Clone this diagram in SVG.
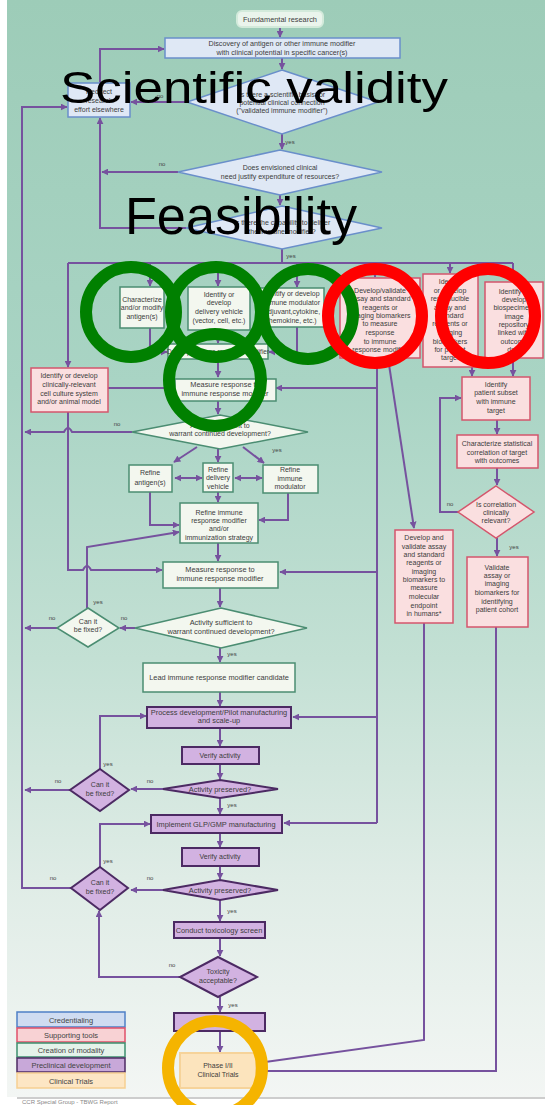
<svg xmlns="http://www.w3.org/2000/svg" width="545" height="1105" viewBox="0 0 545 1105">
<defs>
<linearGradient id="bg" x1="0" y1="0" x2="0" y2="1">
<stop offset="0" stop-color="#9dccb8"/>
<stop offset="0.35" stop-color="#a9d4c4"/>
<stop offset="0.6" stop-color="#c3e0d4"/>
<stop offset="0.8" stop-color="#dfece6"/>
<stop offset="1" stop-color="#f3f6f4"/>
</linearGradient>
<marker id="ah" viewBox="0 0 10 10" refX="9" refY="5" markerWidth="3.5" markerHeight="3.5" orient="auto-start-reverse">
<path d="M0,0 L10,5 L0,10 z" fill="#76529e"/>
</marker>
</defs>
<style>
.t{font-family:"Liberation Sans",Arial,sans-serif;font-size:7px;fill:#3c3c3c;text-anchor:middle}
.s{font-size:7.2px}
.m{font-size:7.4px}
.lg{font-size:7.5px;fill:#444}
.no{font-family:"Liberation Sans",Arial,sans-serif;font-size:6px;fill:#444;text-anchor:middle}
.ln{stroke:#76529e;stroke-width:2;fill:none}
.ar{marker-end:url(#ah)}
.ab{marker-start:url(#ah);marker-end:url(#ah)}
.blu{fill:#dfe8f5;stroke:#6a8fca;stroke-width:1.5}
.grn{fill:#f3f7ef;stroke:#4b8d72;stroke-width:1.5}
.pnk{fill:#fadfe0;stroke:#d4566c;stroke-width:1.5}
.pur{fill:#d2b2e1;stroke:#4c2a63;stroke-width:2}
.org{fill:#fce4bd;stroke:#f6d39a;stroke-width:2}
.big{font-family:"Liberation Sans",Arial,sans-serif;fill:#000}
.gc{fill:none;stroke:#008000;stroke-width:12}
.rc{fill:none;stroke:#ff0000;stroke-width:12}
.oc{fill:none;stroke:#f5b400;stroke-width:12}
</style>
<rect x="0" y="0" width="545" height="1105" fill="#ffffff"/>
<rect x="7" y="0" width="538" height="1097" fill="url(#bg)"/>
<line x1="17" y1="1098" x2="545" y2="1098" stroke="#bdbdbd" stroke-width="1.5"/>
<text x="22" y="1104" style="font-family:'Liberation Sans',Arial,sans-serif;font-size:6px;fill:#888">CCR Special Group - TBWG Report</text>

<g id="connectors">
<path class="ln ar" d="M280 27 V37"/>
<path class="ln ar" d="M282 58 V69"/>
<path class="ln ar" d="M187 102 H131"/>
<path class="ln ar" d="M100 83 V49 H164"/>
<path class="ln ar" d="M282 134 V149"/>
<path class="ln ar" d="M178 172 H102"/>
<path class="ln ar" d="M186 228 H100 V118"/>
<path class="ln ar" d="M280 195 V205"/>
<path class="ln" d="M282 249 V263"/>
<path class="ln" d="M68 263 H513"/>
<path class="ln ar" d="M68 263 V367"/>
<path class="ln ar" d="M150 263 V286"/>
<path class="ln ar" d="M218 263 V286"/>
<path class="ln ar" d="M297 263 V287"/>
<path class="ln ar" d="M375 263 V277"/>
<path class="ln ar" d="M450 263 V273"/>
<path class="ln ar" d="M513 263 V281"/>
<path class="ln ar" d="M72 888 H22 V107 H67"/>
<path class="ln ar" d="M108 388 H174"/>
<path class="ln" d="M377 358 V823"/>
<path class="ln ar" d="M377 388 H276"/>
<path class="ln ar" d="M377 572 H280"/>
<path class="ln ar" d="M377 717 H293"/>
<path class="ln ar" d="M377 823 H284"/>
<path class="ln ar" d="M388 358 L414 528"/>
<path class="ln ar" d="M150 328 V352 H167"/>
<path class="ln ar" d="M218 330 V343"/>
<path class="ln ar" d="M297 327 V352 H269"/>
<path class="ln ar" d="M218 359 V377"/>
<path class="ln ar" d="M218 401 V414"/>
<path class="ln ar" d="M132 432 H72 Q68 424 64 432 H25"/>
<path class="ln ar" d="M197 447 L174 462"/>
<path class="ln ar" d="M218 449 V462"/>
<path class="ln ar" d="M243 447 L264 463"/>
<path class="ln ab" d="M175 478 H202"/>
<path class="ln ab" d="M235 478 H262"/>
<path class="ln ar" d="M150 492 V525 H179"/>
<path class="ln ar" d="M288 493 V520 H259"/>
<path class="ln ar" d="M218 492 V502"/>
<path class="ln ar" d="M218 543 V561"/>
<path class="ln ar" d="M68 412 V570 H83 Q87 562 91 570 H162"/>
<path class="ln ar" d="M87 608 V547 L179 532"/>
<path class="ln ar" d="M220 588 V607"/>
<path class="ln ar" d="M135 628 H120"/>
<path class="ln ar" d="M57 628 H25"/>
<path class="ln ar" d="M220 648 V662"/>
<path class="ln ar" d="M220 692 V706"/>
<path class="ln ar" d="M220 728 V746"/>
<path class="ln ar" d="M220 764 V779"/>
<path class="ln ar" d="M163 789 H131"/>
<path class="ln ar" d="M70 790 H25"/>
<path class="ln ar" d="M100 769 V716 H146"/>
<path class="ln ar" d="M220 798 V814"/>
<path class="ln ar" d="M220 833 V847"/>
<path class="ln ar" d="M220 866 V879"/>
<path class="ln ar" d="M163 890 H131"/>
<path class="ln ar" d="M100 867 V824 H150"/>
<path class="ln ar" d="M220 900 V921"/>
<path class="ln ar" d="M220 938 V956"/>
<path class="ln ar" d="M180 977 H99 V911"/>
<path class="ln ar" d="M220 997 V1012"/>
<path class="ln ar" d="M220 1031 V1052"/>
<path class="ln ar" d="M472 367 V376"/>
<path class="ln ar" d="M513 358 V376"/>
<path class="ln ar" d="M497 420 V434"/>
<path class="ln ar" d="M497 468 V485"/>
<path class="ln ar" d="M458 512 H440 V398 H461"/>
<path class="ln ar" d="M497 538 V556"/>
<path class="ln ar" d="M424 623 V1040 L258 1063"/>
<path class="ln ar" d="M496 627 V1071 H258"/>
</g>

<g id="labels">
<text class="no" x="160" y="98">no</text>
<text class="no" x="290" y="144">yes</text>
<text class="no" x="162" y="166">no</text>
<text class="no" x="291" y="191">yes</text>
<text class="no" x="291" y="258">yes</text>
<text class="no" x="117" y="426">no</text>
<text class="no" x="277" y="452">yes</text>
<text class="no" x="450" y="506">no</text>
<text class="no" x="514" y="549">yes</text>
<text class="no" x="98" y="604">yes</text>
<text class="no" x="52" y="620">no</text>
<text class="no" x="124" y="620">no</text>
<text class="no" x="232" y="656">yes</text>
<text class="no" x="108" y="766">yes</text>
<text class="no" x="58" y="783">no</text>
<text class="no" x="150" y="783">no</text>
<text class="no" x="232" y="807">yes</text>
<text class="no" x="108" y="863">yes</text>
<text class="no" x="53" y="880">no</text>
<text class="no" x="150" y="880">no</text>
<text class="no" x="232" y="913">yes</text>
<text class="no" x="172" y="967">no</text>
<text class="no" x="233" y="1007">yes</text>
</g>

<g id="n-fundamental"><rect x="237" y="11" width="86" height="16" rx="5" fill="#eaf4ec" stroke="#d3eadb" stroke-width="2"/><text class="t m" x="280" y="21.5">Fundamental research</text></g>
<g id="n-discovery"><rect class="blu" x="165" y="38" width="235" height="20"/><text class="t s" x="282" y="46">Discovery of antigen or other immune modifier</text><text class="t s" x="282" y="55">with clinical potential in specific cancer(s)</text></g>
<g id="n-scientific"><polygon class="blu" points="282,70 378,102 282,134 187,102"/><text class="t" x="282" y="97">Is there a scientific basis for</text><text class="t" x="282" y="105">potential clinical connection</text><text class="t" x="282" y="113">("validated immune modifier")</text></g>
<g id="n-redirect"><rect class="blu" x="68" y="83" width="62" height="34"/><text class="t" x="99" y="94">Redirect</text><text class="t" x="99" y="103">research</text><text class="t" x="99" y="112">effort elsewhere</text></g>
<g id="n-need"><polygon class="blu" points="280,150 382,172 280,195 178,172"/><text class="t" x="280" y="170">Does envisioned clinical</text><text class="t" x="280" y="179">need justify expenditure of resources?</text></g>
<g id="n-feasible"><polygon class="blu" points="282,206 382,228 282,249 186,228"/><text class="t" x="282" y="225">Is there the capability to deliver</text><text class="t" x="282" y="234">the immune modifier?</text></g>

<g id="n-antigen"><rect class="grn" x="120" y="287" width="44" height="41"/><text class="t" x="142" y="302">Characterize</text><text class="t" x="142" y="310">and/or modify</text><text class="t" x="142" y="319">antigen(s)</text></g>
<g id="n-vehicle"><rect class="grn" x="188" y="287" width="62" height="43"/><text class="t" x="219" y="297">Identify or</text><text class="t" x="219" y="305">develop</text><text class="t" x="219" y="314">delivery vehicle</text><text class="t" x="219" y="323">(vector, cell, etc.)</text></g>
<g id="n-modulator"><rect class="grn" x="259" y="288" width="65" height="39"/><text class="t" x="291" y="296">Identify or develop</text><text class="t" x="291" y="305">immune modulator</text><text class="t" x="291" y="314">(adjuvant,cytokine,</text><text class="t" x="291" y="323">chemokine, etc.)</text></g>
<g id="n-assay1"><rect class="pnk" x="340" y="278" width="80" height="80"/><text class="t" x="380" y="293">Develop/validate</text><text class="t" x="380" y="301">assay and standard</text><text class="t" x="380" y="310">reagents or</text><text class="t" x="380" y="318">imaging biomarkers</text><text class="t" x="380" y="326">to measure</text><text class="t" x="380" y="335">response</text><text class="t" x="380" y="344">to immune</text><text class="t" x="380" y="352">response modifier</text></g>
<g id="n-reproducible"><rect class="pnk" x="423" y="274" width="55" height="93"/><text class="t" x="450" y="284">Identify</text><text class="t" x="450" y="293">or develop</text><text class="t" x="450" y="301">reproducible</text><text class="t" x="450" y="310">assay and</text><text class="t" x="450" y="318">standard</text><text class="t" x="450" y="326">reagents or</text><text class="t" x="450" y="335">imaging</text><text class="t" x="450" y="344">biomarkers</text><text class="t" x="450" y="352">for patient</text><text class="t" x="450" y="360">target</text></g>
<g id="n-biospecimen"><rect class="pnk" x="485" y="282" width="58" height="76"/><text class="t" x="514" y="294">Identify or</text><text class="t" x="514" y="302">develop</text><text class="t" x="514" y="310">biospecimen/</text><text class="t" x="514" y="319">image</text><text class="t" x="514" y="327">repository</text><text class="t" x="514" y="335">linked with</text><text class="t" x="514" y="344">outcome</text><text class="t" x="514" y="352">data</text></g>
<g id="n-develop-irm"><rect class="grn" x="168" y="344" width="100" height="15"/><text class="t" x="218" y="353.5" style="font-size:6.5px">Develop immune response modifier</text></g>
<g id="n-cellculture"><rect class="pnk" x="31" y="368" width="77" height="44"/><text class="t" x="69" y="378">Identify or develop</text><text class="t" x="69" y="387">clinically-relevant</text><text class="t" x="69" y="396">cell culture system</text><text class="t" x="69" y="404">and/or animal model</text></g>
<g id="n-measure1"><rect class="grn" x="175" y="379" width="101" height="22"/><text class="t m" x="225" y="387">Measure response to</text><text class="t m" x="225" y="396">immune response modifier</text></g>
<g id="n-activity1"><polygon class="grn" points="220,415 308,432 220,449 132,432"/><text class="t" x="220" y="428">Activity sufficient to</text><text class="t" x="220" y="436">warrant continued development?</text></g>
<g id="n-ref-antigen"><rect class="grn" x="129" y="465" width="43" height="27"/><text class="t" x="150" y="475">Refine</text><text class="t" x="150" y="485">antigen(s)</text></g>
<g id="n-ref-vehicle"><rect class="grn" x="203" y="463" width="30" height="29"/><text class="t" x="218" y="472">Refine</text><text class="t" x="218" y="480">delivery</text><text class="t" x="218" y="489">vehicle</text></g>
<g id="n-ref-modulator"><rect class="grn" x="263" y="465" width="55" height="28"/><text class="t" x="290" y="472">Refine</text><text class="t" x="290" y="481">immune</text><text class="t" x="290" y="489">modulator</text></g>
<g id="n-ref-irm"><rect class="grn" x="180" y="503" width="78" height="40"/><text class="t" x="219" y="515">Refine immune</text><text class="t" x="219" y="523">response modifier</text><text class="t" x="219" y="531">and/or</text><text class="t" x="219" y="540">immunization strategy</text></g>
<g id="n-patient"><rect class="pnk" x="462" y="377" width="68" height="43"/><text class="t" x="496" y="387">Identify</text><text class="t" x="496" y="395">patient subset</text><text class="t" x="496" y="404">with immune</text><text class="t" x="496" y="413">target</text></g>
<g id="n-correlation"><rect class="pnk" x="457" y="435" width="81" height="33"/><text class="t" x="497" y="446">Characterize statistical</text><text class="t" x="497" y="455">correlation of target</text><text class="t" x="497" y="463">with outcomes</text></g>
<g id="n-relevant"><polygon class="pnk" points="496,486 534,512 496,538 458,512"/><text class="t" x="496" y="507">Is correlation</text><text class="t" x="496" y="515">clinically</text><text class="t" x="496" y="523">relevant?</text></g>
<g id="n-assay2"><rect class="pnk" x="395" y="530" width="58" height="93"/><text class="t" x="424" y="540">Develop and</text><text class="t" x="424" y="549">validate assay</text><text class="t" x="424" y="557">and standard</text><text class="t" x="424" y="565">reagents or</text><text class="t" x="424" y="574">imaging</text><text class="t" x="424" y="582">biomarkers to</text><text class="t" x="424" y="590">measure</text><text class="t" x="424" y="599">molecular</text><text class="t" x="424" y="608">endpoint</text><text class="t" x="424" y="616">in humans*</text></g>
<g id="n-validate"><rect class="pnk" x="467" y="557" width="61" height="70"/><text class="t" x="497" y="570">Validate</text><text class="t" x="497" y="578">assay or</text><text class="t" x="497" y="586">imaging</text><text class="t" x="497" y="595">biomarkers for</text><text class="t" x="497" y="604">identifying</text><text class="t" x="497" y="612">patient cohort</text></g>
<g id="n-measure2"><rect class="grn" x="163" y="562" width="115" height="26"/><text class="t m" x="220" y="572">Measure response to</text><text class="t m" x="220" y="581">immune response modifier</text></g>
<g id="n-activity2"><polygon class="grn" points="221,608 307,628 221,648 135,628"/><text class="t m" x="221" y="625">Activity sufficient to</text><text class="t m" x="221" y="634">warrant continued development?</text></g>
<g id="n-fix1"><polygon class="grn" points="88,608 119,628 88,647 57,628"/><text class="t" x="88" y="624">Can it</text><text class="t" x="88" y="632">be fixed?</text></g>
<g id="n-lead"><rect class="grn" x="143" y="663" width="152" height="29"/><text class="t m" x="219" y="680">Lead immune response modifier candidate</text></g>
<g id="n-process"><rect class="pur" x="147" y="707" width="144" height="21"/><text class="t m" x="219" y="715">Process development/Pilot manufacturing</text><text class="t m" x="219" y="723">and scale-up</text></g>
<g id="n-verify1"><rect class="pur" x="182" y="747" width="77" height="17"/><text class="t" x="220" y="757.5">Verify activity</text></g>
<g id="n-preserved1"><polygon class="pur" points="163,789 220,780 278,789 220,798"/><text class="t m" x="220" y="791.5">Activity preserved?</text></g>
<g id="n-fix2"><polygon class="pur" points="100,769 129,790 100,811 70,790"/><text class="t" x="100" y="787">Can it</text><text class="t" x="100" y="796">be fixed?</text></g>
<g id="n-glp"><rect class="pur" x="151" y="815" width="131" height="18"/><text class="t m" x="216" y="826.5">Implement GLP/GMP manufacturing</text></g>
<g id="n-verify2"><rect class="pur" x="182" y="848" width="77" height="18"/><text class="t" x="220" y="859">Verify activity</text></g>
<g id="n-preserved2"><polygon class="pur" points="163,890 220,880 278,890 220,900"/><text class="t m" x="220" y="892.5">Activity preserved?</text></g>
<g id="n-fix3"><polygon class="pur" points="100,867 128,888 100,910 71,888"/><text class="t" x="100" y="885">Can it</text><text class="t" x="100" y="894">be fixed?</text></g>
<g id="n-tox"><rect class="pur" x="174" y="922" width="91" height="16"/><text class="t m" x="219" y="932.5">Conduct toxicology screen</text></g>
<g id="n-toxicity"><polygon class="pur" points="218,957 257,977 218,997 180,977"/><text class="t" x="218" y="974">Toxicity</text><text class="t" x="218" y="983">acceptable?</text></g>
<g id="n-purple"><rect class="pur" x="174" y="1013" width="91" height="18"/></g>
<g id="n-phase"><rect class="org" x="180" y="1053" width="76" height="35"/><text class="t" x="218" y="1068">Phase I/II</text><text class="t" x="218" y="1077">Clinical Trials</text></g>

<g id="legend">
<rect x="17" y="1012" width="108" height="15" fill="#cfdcf1" stroke="#4f80c6" stroke-width="1.5"/><text class="t lg" x="71" y="1022.5">Credentialing</text>
<rect x="17" y="1028" width="108" height="14" fill="#f8d2d4" stroke="#e0506a" stroke-width="1.5"/><text class="t lg" x="71" y="1038">Supporting tools</text>
<rect x="17" y="1043" width="108" height="14" fill="#e4f3ea" stroke="#3d8f6e" stroke-width="1.5"/><text class="t lg" x="71" y="1053">Creation of modality</text>
<rect x="17" y="1058" width="108" height="14" fill="#c8a8d9" stroke="#4c2a63" stroke-width="1.5"/><text class="t lg" x="71" y="1068">Preclinical development</text>
<rect x="17" y="1073" width="108" height="15" fill="#fde6c4" stroke="#f6cf92" stroke-width="1.5"/><text class="t lg" x="71" y="1083.5">Clinical Trials</text>
</g>

<g id="highlights">
<circle class="gc" cx="131" cy="312" r="45"/>
<circle class="gc" cx="216" cy="312" r="45"/>
<circle class="gc" cx="308" cy="314" r="45"/>
<circle class="gc" cx="215" cy="380" r="46"/>
<circle class="rc" cx="375" cy="316" r="47"/>
<circle class="rc" cx="488" cy="316" r="47"/>
<circle class="oc" cx="215" cy="1068" r="47"/>
</g>

<g id="titles">
<text class="big" x="60" y="103" font-size="45" textLength="388" lengthAdjust="spacingAndGlyphs">Scientific validity</text>
<text class="big" x="125" y="234" font-size="51" textLength="232" lengthAdjust="spacingAndGlyphs">Feasibility</text>
</g>
</svg>
